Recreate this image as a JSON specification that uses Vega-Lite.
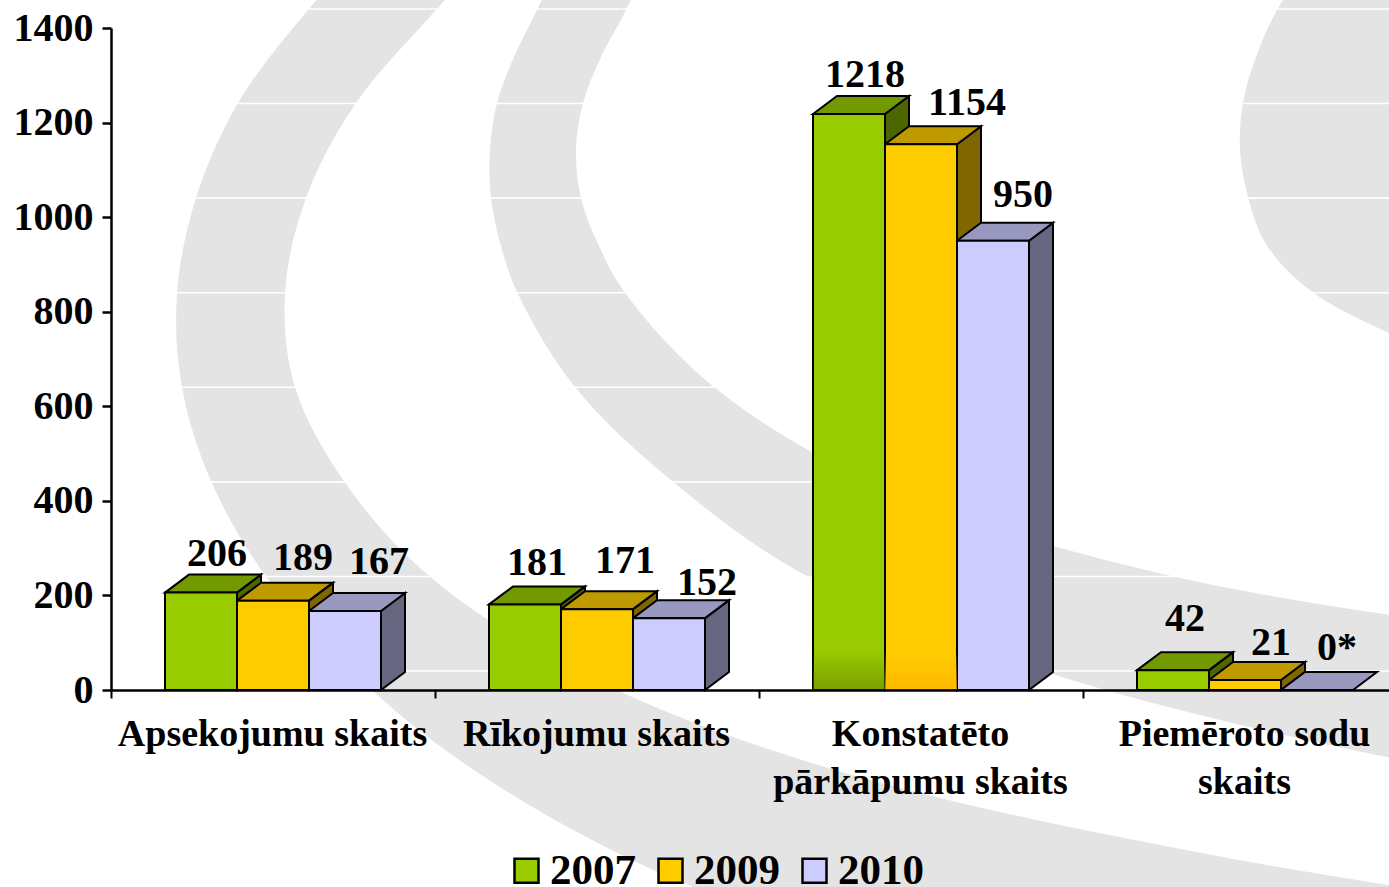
{
"$schema":"https://vega.github.io/schema/vega-lite/v6.json",
"width":1278,"height":662,
"autosize":{"type":"none"},
"padding":{"left":111,"top":28,"right":0,"bottom":197},
"background":"white",
"config":{"view":{"stroke":null},"font":"Liberation Serif"},
"datasets":{
"bars":[
{"category":"Apsekojumu skaits","year":"2007","value":206,"label":"206"},
{"category":"Apsekojumu skaits","year":"2009","value":189,"label":"189"},
{"category":"Apsekojumu skaits","year":"2010","value":167,"label":"167"},
{"category":"Rīkojumu skaits","year":"2007","value":181,"label":"181"},
{"category":"Rīkojumu skaits","year":"2009","value":171,"label":"171"},
{"category":"Rīkojumu skaits","year":"2010","value":152,"label":"152"},
{"category":"Konstatēto pārkāpumu skaits","year":"2007","value":1218,"label":"1218"},
{"category":"Konstatēto pārkāpumu skaits","year":"2009","value":1154,"label":"1154"},
{"category":"Konstatēto pārkāpumu skaits","year":"2010","value":950,"label":"950"},
{"category":"Piemēroto sodu skaits","year":"2007","value":42,"label":"42"},
{"category":"Piemēroto sodu skaits","year":"2009","value":21,"label":"21"},
{"category":"Piemēroto sodu skaits","year":"2010","value":0,"label":"0*"}
],
"swooshes":[
{"band":"A","down":-84,"left":395,"right":520},{"band":"A","down":10,"left":308,"right":436},{"band":"A","down":103,"left":238,"right":356},{"band":"A","down":198,"left":196,"right":306},{"band":"A","down":294,"left":177,"right":285},{"band":"A","down":387,"left":182,"right":295},{"band":"A","down":481,"left":211,"right":344},{"band":"A","down":575,"left":265,"right":428},{"band":"A","down":670,"left":350,"right":575},{"band":"A","down":764,"left":465,"right":815},{"band":"A","down":858,"left":628,"right":1228},{"band":"A","down":952,"left":860,"right":1860},
{"band":"B","down":-84,"left":581,"right":668},{"band":"B","down":10,"left":537,"right":626},{"band":"B","down":57,"left":514,"right":601},{"band":"B","down":103,"left":497,"right":583},{"band":"B","down":150,"left":490,"right":576},{"band":"B","down":198,"left":491,"right":581},{"band":"B","down":246,"left":501,"right":599},{"band":"B","down":294,"left":518,"right":626},{"band":"B","down":387,"left":575,"right":714},{"band":"B","down":481,"left":672,"right":870},{"band":"B","down":575,"left":805,"right":1167},{"band":"B","down":670,"left":1040,"right":1800},{"band":"B","down":764,"left":1420,"right":2500},{"band":"B","down":858,"left":2000,"right":3000},
{"band":"C","down":-37,"left":1310,"right":1600},{"band":"C","down":10,"left":1277,"right":1600},{"band":"C","down":57,"left":1256,"right":1600},{"band":"C","down":103,"left":1243,"right":1600},{"band":"C","down":150,"left":1240,"right":1600},{"band":"C","down":197,"left":1248,"right":1600},{"band":"C","down":244,"left":1266,"right":1600},{"band":"C","down":291,"left":1311,"right":1600},{"band":"C","down":338,"left":1400,"right":1600},{"band":"C","down":385,"left":1520,"right":1600}
]
},
"layer":[
{"data":{"name":"swooshes"},
 "mark":{"type":"area","orient":"horizontal","color":"#E4E4E4","interpolate":"catmull-rom"},
 "encoding":{
  "detail":{"field":"band"},
  "y":{"field":"down","type":"quantitative","axis":null,"scale":{"domain":[690,28],"nice":false,"zero":false}},
  "x":{"field":"left","type":"quantitative","axis":null,"scale":{"domain":[111,1389],"nice":false,"zero":false}},
  "x2":{"field":"right"}
 }},
{"data":{"name":"bars"},
 "layer":[
 {"data":{"values":[{"g":0},{"g":200},{"g":400},{"g":600},{"g":800},{"g":1000},{"g":1200},{"g":1400}]},
  "mark":{"type":"rule","color":"white","strokeWidth":1.6,"yOffset":-19},
  "encoding":{"y":{"field":"g","type":"quantitative"}}},
 {"transform":[{"filter":"datum.value>0"},
   {"calculate":"'M36,0L60,-18L60,'+(datum.value*662/1400-18)+'L36,'+(datum.value*662/1400)+'Z'","as":"sidePath"},
   {"calculate":"datum.year=='2007'?'#4D6600':datum.year=='2009'?'#806600':'#666680'","as":"sideFill"}],
  "mark":{"type":"point","filled":true,"opacity":1,"size":4,"stroke":"black","strokeWidth":2},
  "encoding":{
   "x":{"field":"category","type":"nominal"},
   "xOffset":{"field":"year","type":"nominal"},
   "y":{"field":"value","type":"quantitative"},
   "shape":{"field":"sidePath","type":"nominal","scale":null,"legend":null},
   "fill":{"field":"sideFill","type":"nominal","scale":null,"legend":null}
  }},
 {"transform":[
   {"calculate":"datum.year=='2007'?'#739900':datum.year=='2009'?'#BF9900':'#9999BF'","as":"topFill"}],
  "mark":{"type":"point","filled":true,"opacity":1,"size":4,"stroke":"black","strokeWidth":2,"shape":"M-36,0L-12,-18L60,-18L36,0Z"},
  "encoding":{
   "x":{"field":"category","type":"nominal"},
   "xOffset":{"field":"year","type":"nominal"},
   "y":{"field":"value","type":"quantitative"},
   "fill":{"field":"topFill","type":"nominal","scale":null,"legend":null}
  }},
 {"mark":{"type":"bar","stroke":"black","strokeWidth":2},
  "encoding":{
   "x":{"field":"category","type":"nominal","sort":null,"title":null,
     "scale":{"domain":["Apsekojumu skaits","Rīkojumu skaits","Konstatēto pārkāpumu skaits","Piemēroto sodu skaits"],"range":[0,1296],"paddingInner":0,"paddingOuter":0},
     "axis":{"title":null,"zindex":1,"labelAngle":0,"labelAlign":"center","labelBaseline":"top","labelFont":"Liberation Serif","labelFontWeight":"bold","labelFontSize":38,"labelColor":"black","labelPadding":17,"labelLineHeight":48,"labelOffset":-1,"labelOverlap":false,"labelBound":false,"labelFlush":false,"labelLimit":0,
       "labelExpr":"datum.label=='Konstatēto pārkāpumu skaits'?['Konstatēto','pārkāpumu skaits']:datum.label=='Piemēroto sodu skaits'?['Piemēroto sodu','skaits']:datum.label",
       "tickBand":"extent","tickColor":"black","tickSize":8,"tickWidth":2,"domainColor":"black","domainWidth":2.5,"grid":false}},
   "xOffset":{"field":"year","type":"nominal","sort":null,"scale":{"paddingInner":0,"paddingOuter":0.75}},
   "y":{"field":"value","type":"quantitative","title":null,
     "scale":{"domain":[0,1400],"nice":false},
     "axis":{"title":null,"zindex":1,"format":"d","values":[0,200,400,600,800,1000,1200,1400],"labelFont":"Liberation Serif","labelFontWeight":"bold","labelFontSize":40,"labelColor":"black","labelPadding":9,"tickColor":"black","tickSize":9,"tickWidth":2.5,"domainColor":"black","domainWidth":2.5,"grid":false,"labelBound":false,"labelFlush":false,"labelOverlap":false}},
   "color":{"field":"year","type":"nominal","title":null,
     "scale":{"domain":["2007","2009","2010"],"range":["#99CC00","#FFCC00","#CCCCFF"]},
     "legend":{"orient":"none","legendX":394,"legendY":821,"direction":"horizontal","columns":3,"title":null,"symbolType":"square","symbolSize":576,"symbolStrokeColor":"black","symbolStrokeWidth":2.5,"symbolOpacity":1,"labelFont":"Liberation Serif","labelFontWeight":"bold","labelFontSize":43,"labelColor":"black","labelOffset":2,"columnPadding":13,"labelLimit":0,"padding":0}}
  }},
 {"transform":[{"filter":"datum.value==1218"}],
  "mark":{"type":"bar","color":{"gradient":"linear","x1":0,"y1":0,"x2":0,"y2":1,"stops":[{"offset":0,"color":"rgba(100,130,0,0)"},{"offset":1,"color":"rgba(100,130,0,0.6)"}]}},
  "encoding":{"x":{"field":"category","type":"nominal"},"xOffset":{"field":"year","type":"nominal"},"y":{"datum":85,"type":"quantitative"},"y2":{"datum":0}}},
 {"transform":[{"filter":"datum.value==1154"}],
  "mark":{"type":"bar","color":{"gradient":"linear","x1":0,"y1":0,"x2":0,"y2":1,"stops":[{"offset":0,"color":"rgba(255,180,0,0)"},{"offset":1,"color":"rgba(255,180,0,0.8)"}]}},
  "encoding":{"x":{"field":"category","type":"nominal"},"xOffset":{"field":"year","type":"nominal"},"y":{"datum":85,"type":"quantitative"},"y2":{"datum":0}}},
 {"layer":[
  {"transform":[{"filter":"datum.value==206"}],"mark":{"type":"text","dx":16,"dy":-39,"fontSize":40,"fontWeight":"bold","color":"black"}},
  {"transform":[{"filter":"datum.value==189"}],"mark":{"type":"text","dx":30,"dy":-43,"fontSize":40,"fontWeight":"bold","color":"black"}},
  {"transform":[{"filter":"datum.value==167"}],"mark":{"type":"text","dx":34,"dy":-49,"fontSize":40,"fontWeight":"bold","color":"black"}},
  {"transform":[{"filter":"datum.value==181"}],"mark":{"type":"text","dx":12,"dy":-41,"fontSize":40,"fontWeight":"bold","color":"black"}},
  {"transform":[{"filter":"datum.value==171"}],"mark":{"type":"text","dx":28,"dy":-48,"fontSize":40,"fontWeight":"bold","color":"black"}},
  {"transform":[{"filter":"datum.value==152"}],"mark":{"type":"text","dx":38,"dy":-35,"fontSize":40,"fontWeight":"bold","color":"black"}},
  {"transform":[{"filter":"datum.value==1218"}],"mark":{"type":"text","dx":16,"dy":-39,"fontSize":40,"fontWeight":"bold","color":"black"}},
  {"transform":[{"filter":"datum.value==1154"}],"mark":{"type":"text","dx":46,"dy":-41,"fontSize":40,"fontWeight":"bold","color":"black"}},
  {"transform":[{"filter":"datum.value==950"}],"mark":{"type":"text","dx":30,"dy":-46,"fontSize":40,"fontWeight":"bold","color":"black"}},
  {"transform":[{"filter":"datum.value==42"}],"mark":{"type":"text","dx":12,"dy":-51,"fontSize":40,"fontWeight":"bold","color":"black"}},
  {"transform":[{"filter":"datum.value==21"}],"mark":{"type":"text","dx":26,"dy":-37,"fontSize":40,"fontWeight":"bold","color":"black"}},
  {"transform":[{"filter":"datum.value==0"}],"mark":{"type":"text","dx":20,"dy":-42,"fontSize":40,"fontWeight":"bold","color":"black"}}
  ],
  "encoding":{
   "x":{"field":"category","type":"nominal"},
   "xOffset":{"field":"year","type":"nominal"},
   "y":{"field":"value","type":"quantitative"},
   "text":{"field":"label","type":"nominal"}
  }}
 ]}
],
"resolve":{"scale":{"x":"independent","y":"independent"}}
}
